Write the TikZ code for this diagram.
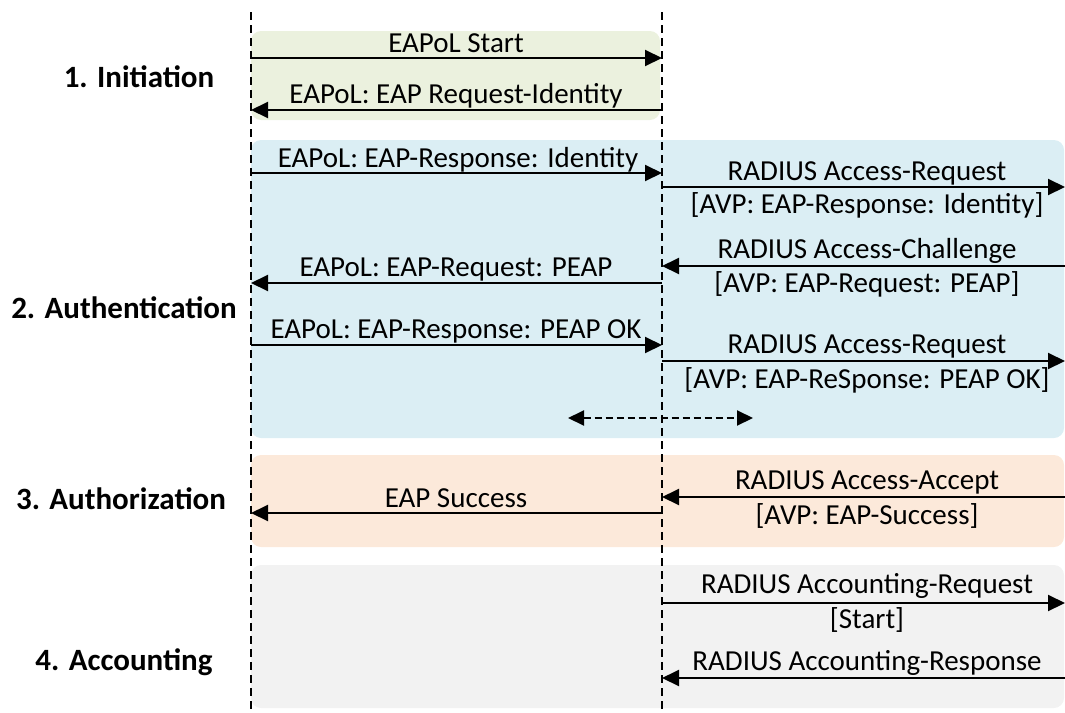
\documentclass[tikz,border=0pt]{standalone}
\usepackage{fontspec}
\setmainfont{Carlito}
\usetikzlibrary{arrows.meta}
\definecolor{phgreen}{RGB}{235,241,222}
\definecolor{phblue}{RGB}{219,238,244}
\definecolor{phorange}{RGB}{252,233,218}
\definecolor{phgray}{RGB}{242,242,242}
\tikzset{
  phasebox/.style={rounded corners=10pt, draw=none},
  lifeline/.style={line width=2.8pt, dash pattern=on 8pt off 5pt},
  msg/.style={line width=2pt, -{Triangle[length=17pt,width=16pt]}},
  dmsg/.style={line width=2pt, dash pattern=on 7pt off 4pt, {Triangle[length=16pt,width=15pt]}-{Triangle[length=16pt,width=15pt]}},
  lbl/.style={anchor=base, inner sep=0pt, font=\fontsize{29}{34}\selectfont},
  phase/.style={anchor=base, inner sep=0pt, font=\fontsize{31}{36}\selectfont\bfseries},
}
\begin{document}
\begin{tikzpicture}[x=1pt,y=-1pt]
\useasboundingbox (0,0) rectangle (1065,712);
% phase backgrounds
\fill[phasebox, phgreen] (251,31) rectangle (660,120);
\fill[phasebox, phblue] (251,140) rectangle (1064,438);
\fill[phasebox, phorange] (251,455) rectangle (1064,547);
\fill[phasebox, phgray] (251,565) rectangle (1064,708);
% phase labels
\node[phase] (p1) at (139,87) {1. Initiation};
\node[phase] (p2) at (124,318) {2. Authentication};
\node[phase] (p3) at (121,509) {3. Authorization};
\node[phase] (p4) at (124,670) {4. Accounting};
% lifelines
\coordinate (sTop) at (251,12); \coordinate (sBot) at (251,712);
\coordinate (aTop) at (662,12); \coordinate (aBot) at (662,712);
\draw[lifeline] (sTop) -- (sBot);
\draw[lifeline] (aTop) -- (aBot);
% 1 EAPoL Start
\coordinate (s1) at (251,58); \coordinate (a1) at (662,58);
\draw[msg] (s1) -- (a1);
\node[lbl] (t1) at (456,52) {EAPoL Start};
% 2
\coordinate (s2) at (251,110); \coordinate (a2) at (662,110);
\draw[msg] (a2) -- (s2);
\node[lbl] (t2) at (456,103) {EAPoL: EAP Request-Identity};
% 3
\coordinate (s3) at (251,173); \coordinate (a3) at (662,173);
\draw[msg] (s3) -- (a3);
\node[lbl] (t3) at (458,167) {EAPoL: EAP-Response: Identity};
% 4
\coordinate (a4) at (662,187); \coordinate (r4) at (1065,187);
\draw[msg] (a4) -- (r4);
\node[lbl] (t4a) at (867,180) {RADIUS Access-Request};
\node[lbl] (t4b) at (867,213) {[AVP: EAP-Response: Identity]};
% 5
\coordinate (a5) at (662,266); \coordinate (r5) at (1070,266);
\draw[msg] (r5) -- (a5);
\node[lbl] (t5a) at (867,258) {RADIUS Access-Challenge};
\node[lbl] (t5b) at (867,292) {[AVP: EAP-Request: PEAP]};
% 6
\coordinate (s6) at (251,283); \coordinate (a6) at (662,283);
\draw[msg] (a6) -- (s6);
\node[lbl] (t6) at (456,276) {EAPoL: EAP-Request: PEAP};
% 7
\coordinate (s7) at (251,345); \coordinate (a7) at (662,345);
\draw[msg] (s7) -- (a7);
\node[lbl] (t7) at (456,338) {EAPoL: EAP-Response: PEAP OK};
% 8
\coordinate (a8) at (662,361); \coordinate (r8) at (1065,361);
\draw[msg] (a8) -- (r8);
\node[lbl] (t8a) at (867,353) {RADIUS Access-Request};
\node[lbl] (t8b) at (867,388) {[AVP: EAP-ReSponse: PEAP OK]};
% 9 dashed
\coordinate (d1) at (568,418); \coordinate (d2) at (753,418);
\draw[dmsg] (d1) -- (d2);
% 10
\coordinate (a10) at (662,497); \coordinate (r10) at (1070,497);
\draw[msg] (r10) -- (a10);
\node[lbl] (t10a) at (867,489) {RADIUS Access-Accept};
\node[lbl] (t10b) at (867,524) {[AVP: EAP-Success]};
% 11
\coordinate (s11) at (251,513); \coordinate (a11) at (662,513);
\draw[msg] (a11) -- (s11);
\node[lbl] (t11) at (456,507) {EAP Success};
% 12
\coordinate (a12) at (662,603); \coordinate (r12) at (1065,603);
\draw[msg] (a12) -- (r12);
\node[lbl] (t12a) at (867,593) {RADIUS Accounting-Request};
\node[lbl] (t12b) at (867,628) {[Start]};
% 13
\coordinate (a13) at (662,678); \coordinate (r13) at (1070,678);
\draw[msg] (r13) -- (a13);
\node[lbl] (t13) at (867,670) {RADIUS Accounting-Response};
\end{tikzpicture}
\end{document}
